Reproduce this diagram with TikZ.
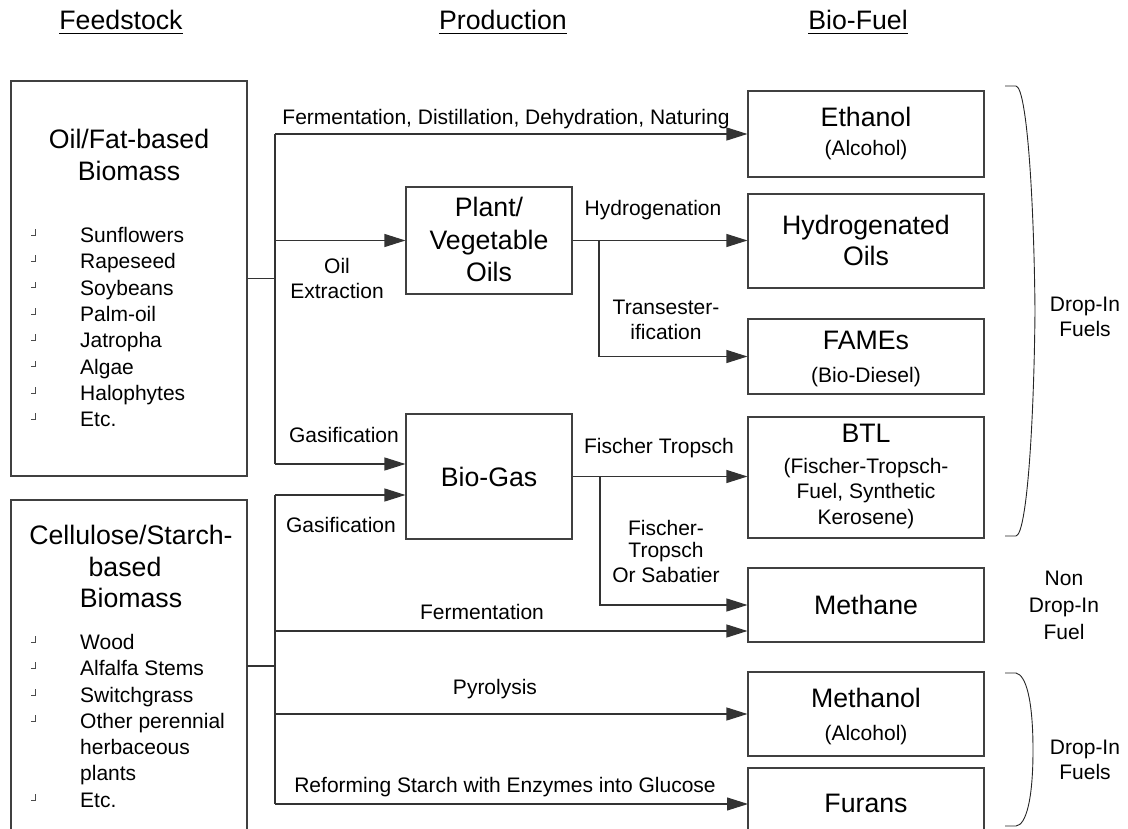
\documentclass[tikz,border=0pt]{standalone}
\usepackage{fontspec}
\setmainfont{Liberation Sans}
\usetikzlibrary{arrows.meta}
\begin{document}
\begin{tikzpicture}[x=1pt,y=-1pt,
  ln/.style={draw=black!80, line width=1.1pt},
  arr/.style={ln, -{Triangle[length=21pt,width=13pt]}},
  box/.style={draw=black!75, line width=1.1pt, rectangle, inner sep=0pt},
  brc/.style={draw=black!85, line width=0.9pt},
  bulst/.style={draw=black!70, line width=0.6pt},
  ta/.style={font=\fontsize{21}{25}\selectfont, inner sep=0pt, anchor=base},
  tl/.style={font=\fontsize{21}{25}\selectfont, inner sep=0pt, anchor=base west},
  tb/.style={font=\fontsize{26.7}{32}\selectfont, inner sep=0pt, anchor=base},
  hd/.style={font=\fontsize{26.7}{32}\selectfont, inner sep=0pt, anchor=base}
]
\useasboundingbox (0,0) rectangle (1128,829);

% headings
\node[hd] (h1) at (121,30) {Feedstock};
\node[hd] (h2) at (503,30) {Production};
\node[hd] (h3) at (858,30) {Bio-Fuel};
\foreach \h in {h1,h2,h3}{
  \draw[black, line width=1.2pt] ([yshift=-3pt]\h.south west) -- ([yshift=-3pt]\h.south east);
}

% feedstock boxes
\node[box, minimum width=236pt, minimum height=395pt] (oil) at (129,278.5) {};
\draw[box] (11,829) -- (11,500) -- (247,500) -- (247,829);
\coordinate (cellR) at (247,666);

\node[tb] (oilt1) at (129,149) {Oil/Fat-based};
\node[tb] (oilt2) at (129,181) {Biomass};
\foreach \n/\t/\yy in {o1/Sunflowers/235, o2/Rapeseed/261.3, o3/Soybeans/287.6, o4/Palm-oil/313.9,
                       o5/Jatropha/340.2, o6/Algae/366.5, o7/Halophytes/392.8, o8/Etc./419}{
  \node[tl] (\n) at (80,\yy+7.5) {\t};
  \draw[bulst] (31,\yy) -- (35,\yy) -- (35,\yy-6);
}

\node[tb] (cet1) at (131,544.5) {Cellulose/Starch-};
\node[tb] (cet2) at (125,576.5) {based};
\node[tb] (cet3) at (131,607.5) {Biomass};
\foreach \n/\t/\yy in {c1/Wood/642, c2/Alfalfa Stems/668, c3/Switchgrass/695, c4/Other perennial/721, c7/Etc./800}{
  \node[tl] (\n) at (80,\yy+7.5) {\t};
  \draw[bulst] (31,\yy) -- (35,\yy) -- (35,\yy-6);
}
\node[tl] (c5) at (80,754.5) {herbaceous};
\node[tl] (c6) at (80,780.5) {plants};

% production boxes
\node[box, minimum width=166pt, minimum height=107pt] (plant) at (489,240.5) {};
\node[tb] (pl1) at (489,217) {Plant/};
\node[tb] (pl2) at (489,249.5) {Vegetable};
\node[tb] (pl3) at (489,282) {Oils};
\node[box, minimum width=166pt, minimum height=125pt] (gas) at (489,476.5) {};
\node[tb] (gast) at (489,486) {Bio-Gas};

% fuel boxes
\node[box, minimum width=236pt, minimum height=86pt] (eth) at (866,134) {};
\node[tb] (etht) at (866,127) {Ethanol};
\node[ta] (eths) at (866,156) {(Alcohol)};
\node[box, minimum width=236pt, minimum height=94pt] (hyd) at (866,241) {};
\node[tb] (hyd1) at (866,234.5) {Hydrogenated};
\node[tb] (hyd2) at (866,266) {Oils};
\node[box, minimum width=236pt, minimum height=75pt] (fame) at (866,356.5) {};
\node[tb] (famet) at (866,349.5) {FAMEs};
\node[ta] (fames) at (866,382) {(Bio-Diesel)};
\node[box, minimum width=236pt, minimum height=121pt] (btl) at (866,477.5) {};
\node[tb] (btlt) at (866,442.5) {BTL};
\node[ta] (btl1) at (866,473) {(Fischer-Tropsch-};
\node[ta] (btl2) at (866,498) {Fuel, Synthetic};
\node[ta] (btl3) at (866,524) {Kerosene)};
\node[box, minimum width=236pt, minimum height=74pt] (meth) at (866,605) {};
\node[tb] (metht) at (866,614.5) {Methane};
\node[box, minimum width=236pt, minimum height=84pt] (mol) at (866,714) {};
\node[tb] (molt) at (866,707.5) {Methanol};
\node[ta] (mols) at (866,740) {(Alcohol)};
\draw[box] (748,829) -- (748,768) -- (984,768) -- (984,829);
\coordinate (furW) at (748,804);
\node[tb] (furt) at (866,812.5) {Furans};

% connectors from oil biomass
\coordinate (jo) at (275,278.5);
\coordinate (jt) at (275,134);
\coordinate (jb) at (275,464);
\draw[ln] (oil.east) -- (jo);
\draw[ln] (jt) -- (jb);
\draw[arr] (jt) -- (eth.west);
\draw[arr] (jt |- plant.west) -- (plant.west);
\draw[arr] (jb) -- (jb -| gas.west);

% connectors from cellulose biomass
\coordinate (cj) at (275,666);
\coordinate (ct) at (275,495);
\coordinate (cf) at (275,631);
\coordinate (cp) at (275,714);
\coordinate (cb) at (275,804);
\draw[ln] (cellR) -- (cj);
\draw[ln] (ct) -- (cb);
\draw[arr] (ct) -- (ct -| gas.west);
\draw[arr] (cf) -- (cf -| meth.west);
\draw[arr] (cp) -- (mol.west);
\draw[arr] (cb) -- (furW);

% connectors from production
\coordinate (pb) at (599,240.5);
\draw[arr] (plant.east) -- (plant.east -| hyd.west);
\draw[arr] (pb) |- (fame.west);
\coordinate (gb) at (600,476.5);
\draw[arr] (gas.east) -- (gas.east -| btl.west);
\draw[arr] (gb) |- (meth.west);

% connector labels
\node[ta] (l1) at (506,125) {Fermentation, Distillation, Dehydration, Naturing};
\node[ta] (l2a) at (337,274) {Oil};
\node[ta] (l2b) at (337,299) {Extraction};
\node[ta] (l3) at (344,442) {Gasification};
\node[ta] (l4) at (341,532) {Gasification};
\node[ta] (l5) at (482,619) {Fermentation};
\node[ta] (l6) at (495,694) {Pyrolysis};
\node[ta] (l7) at (505,792) {Reforming Starch with Enzymes into Glucose};
\node[ta] (l8) at (653,216) {Hydrogenation};
\node[ta] (l9a) at (666,315) {Transester-};
\node[ta] (l9b) at (666,340) {ification};
\node[ta] (l10) at (659,453) {Fischer Tropsch};
\node[ta] (l11a) at (666,535) {Fischer-};
\node[ta] (l11b) at (666,557) {Tropsch};
\node[ta] (l11c) at (666,582) {Or Sabatier};

% braces and groups
\draw[brc] (1005,86) -- (1016,86) .. controls (1027,88) and (1034,200) .. (1035,311)
  .. controls (1034,422) and (1027,534) .. (1016,536) -- (1005,536);
\draw[brc] (1005,673) -- (1016,673) .. controls (1026,675) and (1033,700) .. (1033,750)
  .. controls (1033,800) and (1026,825) .. (1016,826) -- (1005,826);
\node[ta] (g1a) at (1085,312) {Drop-In};
\node[ta] (g1b) at (1085,337) {Fuels};
\node[ta] (g2a) at (1064,585) {Non};
\node[ta] (g2b) at (1064,612) {Drop-In};
\node[ta] (g2c) at (1064,639) {Fuel};
\node[ta] (g3a) at (1085,754) {Drop-In};
\node[ta] (g3b) at (1085,779) {Fuels};
\end{tikzpicture}
\end{document}
